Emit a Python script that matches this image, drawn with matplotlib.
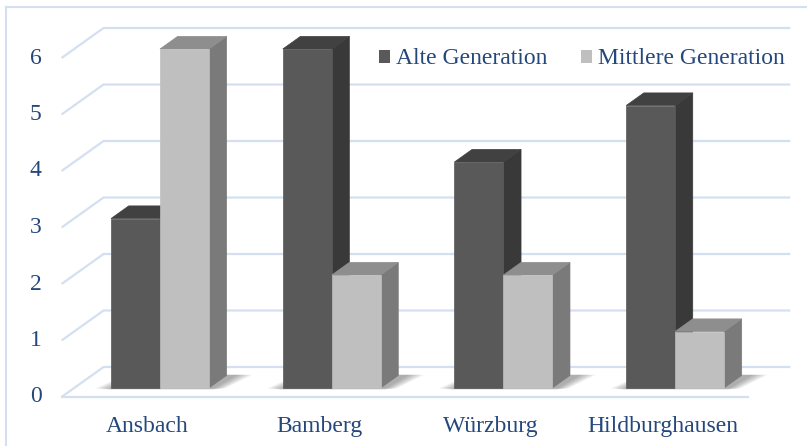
import matplotlib
matplotlib.use("Agg")
import matplotlib.pyplot as plt
from matplotlib.patches import Polygon, Patch
from matplotlib.lines import Line2D
import numpy as np

categories = ["Ansbach", "Bamberg", "Würzburg", "Hildburghausen"]
series_names = ["Alte Generation", "Mittlere Generation"]
alte = [3, 6, 4, 5]
mittlere = [6, 2, 2, 1]
yticks = [0, 1, 2, 3, 4, 5, 6]

W, H = 807, 446
fig = plt.figure(figsize=(W / 100, H / 100), dpi=100)
fig.patch.set_facecolor("white")
ax = fig.add_axes([0, 0, 1, 1])
ax.set_axis_off()

# pixel geometry -> data units
px_per_cat = 171.7
px_per_val = 56.5
x0_px = 147.4   # category 0 center at depth 0
y0_px = 397.0   # value 0 at depth 0 (from top)
ax.set_xlim(-x0_px / px_per_cat, (W - x0_px) / px_per_cat)
ax.set_ylim((y0_px - H) / px_per_val, y0_px / px_per_val)

DX = 42 / px_per_cat
DY = 30 / px_per_val


def P(x, v, d):
    return (x + d * DX, v + d * DY)


grid_c = "#d4e0f1"
text_c = "#24487c"
FONT = "Liberation Serif"
FS = 17

xl, xr = -0.5, len(categories) - 0.5
# gridlines: diagonal on left wall + back wall
for v in yticks:
    pts = [P(xl, v, 0), P(xl, v, 1), P(xr, v, 1)]
    ax.plot([p[0] for p in pts], [p[1] for p in pts], color=grid_c, lw=1.6,
            zorder=1, solid_capstyle="butt")
# floor front edge
a, b = P(xl, 0, 0), P(xr, 0, 0)
ax.plot([a[0], b[0]], [a[1], b[1]], color=grid_c, lw=1.6, zorder=1)

# tick labels
for v in yticks:
    p = P(xl, v, 0)
    ax.text(p[0] - 0.115, p[1], str(v), ha="right", va="center", fontsize=FS,
            family=FONT, color=text_c)

for i, c in enumerate(categories):
    ax.text(i, -0.53, c, ha="center", va="center", fontsize=FS, family=FONT,
            color=text_c)

bw = 0.285
d0, d1 = 0.3, 0.72
colors = [
    {"front": "#595959", "side": "#393939", "top": "#414141"},
    {"front": "#bfbfbf", "side": "#7a7a7a", "top": "#8e8e8e"},
]


def shadow(i):
    xa = i - bw
    xb = i + bw
    for k in range(7):
        e = k * 0.012
        poly = [P(xa - 0.02 - e, -0.03 + e * 0.3, d0),
                P(xb + 0.02 + e, -0.03 + e * 0.3, d0),
                P(xb + 0.06 + e * 1.2, 0, d1 + 0.02),
                P(xa + 0.05 - e, 0, d1 + 0.02)]
        ax.add_patch(Polygon(poly, closed=True, facecolor="black", alpha=0.05,
                             edgecolor="none", zorder=2))


def bar3d(xa, xb, h, col):
    front = [P(xa, 0, d0), P(xb, 0, d0), P(xb, h, d0), P(xa, h, d0)]
    side = [P(xb, 0, d0), P(xb, 0, d1), P(xb, h, d1), P(xb, h, d0)]
    top = [P(xa, h, d0), P(xb, h, d0), P(xb, h, d1), P(xa, h, d1)]
    for poly, fc in ((side, col["side"]), (top, col["top"]), (front, col["front"])):
        ax.add_patch(Polygon(poly, closed=True, facecolor=fc, edgecolor=fc,
                             lw=0.5, zorder=3))


for i in range(len(categories)):
    shadow(i)
for i in range(len(categories)):
    bar3d(i - bw, i, alte[i], colors[0])
    bar3d(i, i + bw, mittlere[i], colors[1])

# legend
handles = [Patch(facecolor=colors[0]["front"], edgecolor="none"),
           Patch(facecolor=colors[1]["front"], edgecolor="none")]
leg = ax.legend(handles, series_names, ncol=2, frameon=False,
                loc="center left", bbox_to_anchor=(379 / W, 1 - 59 / H),
                bbox_transform=fig.transFigure, borderaxespad=0, borderpad=0,
                handlelength=0.47, handleheight=0.47, handletextpad=0.25,
                columnspacing=1.44,
                prop={"family": FONT, "size": FS})
for t in leg.get_texts():
    t.set_color(text_c)

# chart border (left and top visible)
fig.add_artist(Line2D([6 / W, 6 / W], [0, 1 - 7 / H], color=grid_c, lw=1.5,
                      transform=fig.transFigure))
fig.add_artist(Line2D([6 / W, 1], [1 - 7 / H, 1 - 7 / H], color=grid_c, lw=1.5,
                      transform=fig.transFigure))

fig.savefig("out.png", dpi=100, facecolor="white")
